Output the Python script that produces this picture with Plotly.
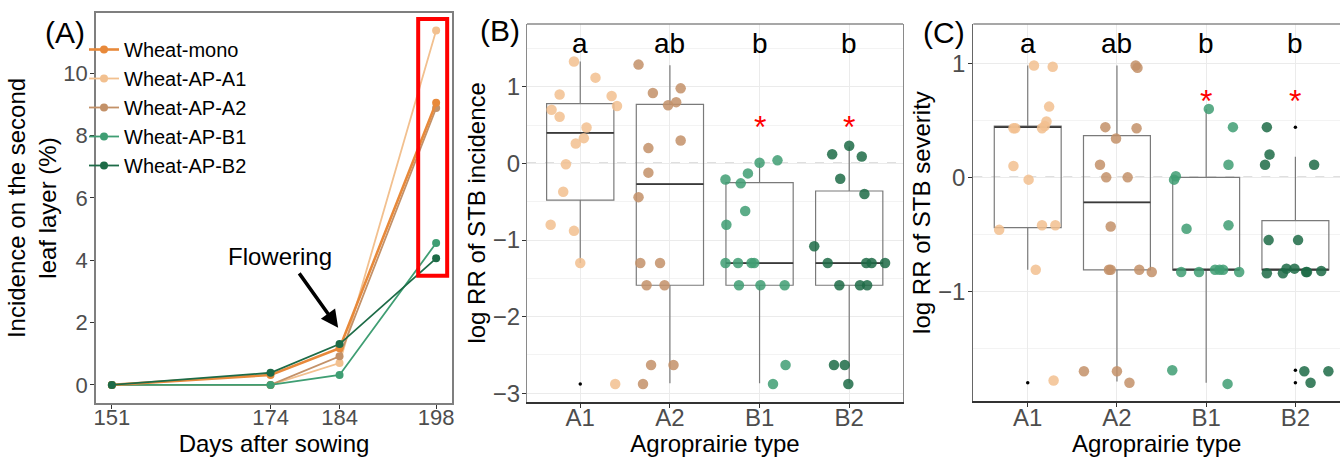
import plotly.graph_objects as go

# ---------------- data ----------------
days = [151, 174, 184, 198]
line_names = ["Wheat-mono", "Wheat-AP-A1", "Wheat-AP-A2", "Wheat-AP-B1", "Wheat-AP-B2"]
inc_mono = [0.0, 0.32, 1.18, 9.05]
inc_ap_a1 = [0.0, 0.0, 0.70, 11.37]
inc_ap_a2 = [0.0, 0.0, 0.92, 8.88]
inc_ap_b1 = [0.0, 0.0, 0.32, 4.55]
inc_ap_b2 = [0.0, 0.39, 1.31, 4.06]

groups = ["A1", "A2", "B1", "B2"]
letters = ["a", "ab", "b", "b"]
signif = ["", "", "*", "*"]

# Panel B: log RR of STB incidence (points + jitter offsets)
incB_A1 = [1.33, 1.12, 0.90, 0.88, 0.75, 0.70, 0.61, 0.47, 0.33, 0.26, -0.01, -0.37, -0.80, -0.88, -1.30, -2.88]
incB_A1_dx = [-0.07, 0.17, -0.23, 0.35, 0.41, -0.32, -0.23, 0.07, 0.04, -0.05, -0.16, -0.19, -0.33, -0.07, 0.0, 0.39]
incB_A2 = [1.29, 0.92, 0.98, 0.76, 0.80, 0.30, 0.20, -0.12, -0.44, -1.30, -1.30, -1.59, -1.59, -2.63, -2.63, -2.88]
incB_A2_dx = [-0.35, -0.19, 0.12, -0.02, 0.07, 0.12, -0.24, -0.24, -0.35, -0.33, -0.11, -0.26, -0.06, -0.21, 0.04, -0.30]
incB_B1 = [0.01, 0.04, -0.13, -0.21, -0.26, -0.62, -0.80, -1.30, -1.30, -1.30, -1.30, -1.59, -1.59, -1.59, -2.63, -2.88]
incB_B1_dx = [0.0, 0.20, -0.13, -0.38, -0.21, -0.16, -0.37, -0.38, -0.24, -0.09, -0.06, -0.23, 0.01, 0.28, 0.29, 0.15]
incB_B2 = [0.23, 0.12, 0.09, -0.20, -0.40, -1.08, -1.30, -1.30, -1.30, -1.30, -1.59, -1.59, -1.59, -2.63, -2.63, -2.88]
incB_B2_dx = [0.0, -0.19, 0.14, -0.10, 0.17, -0.39, -0.24, 0.19, 0.25, 0.40, -0.11, 0.12, 0.20, -0.17, -0.05, -0.01]
incB_q1 = [-0.48, -1.59, -1.59, -1.59]
incB_median = [0.40, -0.27, -1.30, -1.30]
incB_q3 = [0.78, 0.77, -0.25, -0.36]
incB_lower = [-1.30, -2.87, -2.87, -2.87]
incB_upper = [1.33, 1.28, 0.01, 0.22]
incB_out_group = [0]
incB_out_value = [-2.88]

# Panel C: log RR of STB severity
sevC_A1 = [0.98, 0.97, 0.62, 0.49, 0.45, 0.43, 0.43, 0.43, 0.10, -0.02, -0.46, -0.42, -0.42, -0.81, -1.78]
sevC_A1_dx = [0.07, 0.28, 0.24, 0.21, 0.19, 0.16, -0.14, -0.16, -0.16, 0.01, -0.32, 0.16, 0.31, 0.09, 0.29]
sevC_A2 = [0.98, 0.96, 0.44, 0.43, 0.34, 0.11, 0.00, 0.00, -0.43, -0.81, -0.81, -0.81, -0.83, -1.70, -1.70, -1.80]
sevC_A2_dx = [0.21, 0.23, -0.13, 0.22, -0.01, -0.19, -0.12, 0.12, -0.07, -0.09, -0.07, 0.25, 0.39, -0.37, 0.0, 0.14]
sevC_B1 = [0.60, 0.44, 0.11, 0.01, -0.02, -0.45, -0.42, -0.83, -0.83, -0.81, -0.81, -0.81, -0.83, -1.69, -1.81]
sevC_B1_dx = [0.03, 0.30, 0.25, -0.34, -0.36, -0.22, 0.25, -0.28, -0.08, 0.10, 0.15, 0.19, 0.37, -0.38, 0.24]
sevC_B2 = [0.44, 0.20, 0.11, 0.11, -0.55, -0.55, -0.84, -0.84, -0.80, -0.80, -0.83, -0.83, -0.82, -1.70, -1.70, -1.80]
sevC_B2_dx = [-0.32, -0.29, -0.34, 0.21, -0.30, 0.03, -0.32, -0.14, -0.10, -0.01, 0.12, 0.13, 0.29, 0.10, 0.37, 0.17]
sevC_q1 = [-0.44, -0.81, -0.81, -0.81]
sevC_median = [0.44, -0.22, -0.81, -0.81]
sevC_q3 = [0.45, 0.365, 0.0, -0.38]
sevC_lower = [-0.81, -1.79, -1.80, -0.81]
sevC_upper = [0.98, 0.98, 0.60, 0.18]
sevC_out_group = [0, 3, 3, 3]
sevC_out_value = [-1.80, 0.44, -1.69, -1.80]

# ---------------- styles ----------------
W, H = 1340, 457
FONT = "Liberation Sans, Arial, sans-serif"
TICK_GRAY = "#4D4D4D"
col_mono = "#E8893A"
col_a1 = "#F2C08F"
col_a2 = "#C39168"
col_b1 = "#3F9E73"
col_b2 = "#1D6B47"
group_cols = [col_a1, col_a2, col_b1, col_b2]


def dom_x(x0, x1):
    return [x0 / W, min(x1 / W, 1.0)]


def dom_y(top, bottom):
    return [(H - bottom) / H, (H - top) / H]


fig = go.Figure()

# ---------------- panel A ----------------
series = [
    ("Wheat-AP-A1", inc_ap_a1, col_a1, 1.8, 2),
    ("Wheat-AP-A2", inc_ap_a2, col_a2, 1.8, 3),
    ("Wheat-AP-B1", inc_ap_b1, col_b1, 1.8, 4),
    ("Wheat-mono", inc_mono, col_mono, 2.6, 1),
    ("Wheat-AP-B2", inc_ap_b2, col_b2, 1.8, 5),
]
for name, vals, col, lw, rank in series:
    fig.add_trace(go.Scatter(
        x=days, y=vals, mode="lines+markers", name=name,
        line=dict(color=col, width=lw), marker=dict(color=col, size=8),
        legendrank=rank, xaxis="x", yaxis="y"))


# ---------------- panels B and C ----------------
def add_box_panel(xa, ya, pts, dxs, q1, med, q3, lo, up, og, ov):
    fig.add_trace(go.Box(
        x=list(range(len(groups))), q1=q1, median=med, q3=q3,
        lowerfence=lo, upperfence=up, width=0.75, boxpoints=False,
        whiskerwidth=0, line=dict(color="#7A7A7A", width=1.2),
        fillcolor="rgba(255,255,255,0)", showlegend=False,
        hoverinfo="skip", xaxis=xa, yaxis=ya))
    mx, my = [], []
    for i, m in enumerate(med):
        mx += [i - 0.375, i + 0.375, None]
        my += [m, m, None]
    fig.add_trace(go.Scatter(x=mx, y=my, mode="lines",
                             line=dict(color="#3A3A3A", width=1.8),
                             showlegend=False, hoverinfo="skip",
                             xaxis=xa, yaxis=ya))
    fig.add_trace(go.Scatter(x=og, y=ov, mode="markers",
                             marker=dict(color="black", size=3.5),
                             showlegend=False, xaxis=xa, yaxis=ya))
    for i, (vals, dx) in enumerate(zip(pts, dxs)):
        fig.add_trace(go.Scatter(
            x=[i + d for d in dx], y=vals, mode="markers",
            marker=dict(color=group_cols[i], size=10.5, opacity=0.85),
            name=groups[i], showlegend=False, xaxis=xa, yaxis=ya))


add_box_panel("x2", "y2",
              [incB_A1, incB_A2, incB_B1, incB_B2],
              [incB_A1_dx, incB_A2_dx, incB_B1_dx, incB_B2_dx],
              incB_q1, incB_median, incB_q3, incB_lower, incB_upper,
              incB_out_group, incB_out_value)
add_box_panel("x3", "y3",
              [sevC_A1, sevC_A2, sevC_B1, sevC_B2],
              [sevC_A1_dx, sevC_A2_dx, sevC_B1_dx, sevC_B2_dx],
              sevC_q1, sevC_median, sevC_q3, sevC_lower, sevC_upper,
              sevC_out_group, sevC_out_value)

tickfont_a = dict(family=FONT, size=22, color=TICK_GRAY)
tickfont_b = dict(family=FONT, size=24, color=TICK_GRAY)
titlefont = dict(family=FONT, size=24, color="black")
grid = "#EBEBEB"

layout = dict(
    width=W, height=H, margin=dict(l=0, r=0, t=0, b=0, autoexpand=False),
    paper_bgcolor="white", plot_bgcolor="white",
    font=dict(family=FONT, color="black"),
    showlegend=True,
    legend=dict(x=84 / W, y=(H - 30) / H, xanchor="left", yanchor="top",
                bgcolor="rgba(0,0,0,0)", font=dict(family=FONT, size=20, color="black"),
                itemwidth=30, tracegroupgap=0),
    # panel A
    xaxis=dict(domain=dom_x(96, 452), range=[148.7, 200.3], tickvals=days,
               showgrid=False, zeroline=False, showline=True, linecolor="#7F7F7F",
               linewidth=1.5, mirror=True, ticks="outside", ticklen=4, tickcolor="#333",
               tickfont=tickfont_a, ticklabelstandoff=-10, automargin=True,
               title=dict(text="Days after sowing", font=titlefont, standoff=12)),
    yaxis=dict(domain=dom_y(13, 403), range=[-0.58, 11.93], tickvals=[0, 2, 4, 6, 8, 10],
               showgrid=False, zeroline=False, showline=True, linecolor="#7F7F7F",
               linewidth=1.5, mirror=True, ticks="outside", ticklen=4, tickcolor="#333",
               tickfont=tickfont_a, anchor="x", automargin=True, ticklabelstandoff=-2,
               title=dict(text="Incidence on the second<br>leaf layer (%)", font=titlefont, standoff=0)),
    # panel B
    xaxis2=dict(domain=dom_x(527, 903), range=[-0.594, 3.6], tickvals=[0, 1, 2, 3],
                ticktext=groups, showgrid=True, gridcolor=grid, gridwidth=1, zeroline=False,
                showline=True, linecolor="#333", linewidth=1.6, ticks="outside", ticklen=4,
                tickcolor="#333", tickfont=tickfont_b, anchor="y2",
                ticklabelstandoff=-10, automargin=True,
                title=dict(text="Agroprairie type", font=titlefont, standoff=12)),
    yaxis2=dict(domain=dom_y(24, 401.7), range=[-3.11, 1.82], tickvals=[-3, -2, -1, 0, 1],
                showgrid=True, gridcolor=grid, gridwidth=1, zeroline=False,
                minor=dict(dtick=0.5, tick0=0, showgrid=True, gridcolor="#F3F3F3", gridwidth=0.8),
                showline=True, linecolor="#8A8A8A", linewidth=1.3, mirror=True,
                ticks="outside", ticklen=4, tickcolor="#333", tickfont=tickfont_b, anchor="x2",
                automargin=True, ticklabelstandoff=-3,
                title=dict(text="log RR of STB incidence", font=titlefont, standoff=0)),
    # panel C
    xaxis3=dict(domain=dom_x(973.3, 1340), range=[-0.61, 3.5], tickvals=[0, 1, 2, 3],
                ticktext=groups, showgrid=True, gridcolor=grid, gridwidth=1, zeroline=False,
                showline=True, linecolor="#333", linewidth=1.6, ticks="outside", ticklen=4,
                tickcolor="#333", tickfont=tickfont_b, anchor="y3",
                ticklabelstandoff=-10, automargin=True,
                title=dict(text="Agroprairie type", font=titlefont, standoff=12)),
    yaxis3=dict(domain=dom_y(24, 401), range=[-1.96, 1.344], tickvals=[-1, 0, 1],
                showgrid=True, gridcolor=grid, gridwidth=1, zeroline=False,
                minor=dict(dtick=0.5, tick0=0, showgrid=True, gridcolor="#F3F3F3", gridwidth=0.8),
                showline=True, linecolor="#666", linewidth=1.4, mirror=False,
                ticks="outside", ticklen=4, tickcolor="#333", tickfont=tickfont_b, anchor="x3",
                automargin=True, ticklabelstandoff=-2,
                title=dict(text="log RR of STB severity", font=titlefont, standoff=0)),
)
fig.update_layout(**layout)

shapes = [
    # highlight box in panel A
    dict(type="rect", xref="x", yref="y", x0=195.4, x1=199.6, y0=3.5, y1=11.74,
         line=dict(color="#FF0000", width=4), fillcolor="rgba(0,0,0,0)"),
    # zero reference lines
    dict(type="line", xref="x2 domain", yref="y2", x0=0, x1=1, y0=0, y1=0,
         line=dict(color="#7F7F7F", width=1.3, dash="dash"), layer="below"),
    dict(type="line", xref="x3 domain", yref="y3", x0=0, x1=1, y0=0, y1=0,
         line=dict(color="#7F7F7F", width=1.3, dash="dash"), layer="below"),
    # top borders of B and C
    dict(type="line", xref="x2 domain", yref="y2 domain", x0=0, x1=1, y0=1, y1=1,
         line=dict(color="#8A8A8A", width=1.3)),
    dict(type="line", xref="x3 domain", yref="y3 domain", x0=0, x1=1, y0=1, y1=1,
         line=dict(color="#8A8A8A", width=1.3)),
]
fig.update_layout(shapes=shapes)

panel_font = dict(family=FONT, size=30, color="black")
ann = [
    dict(text="(A)", x=65 / W, y=(H - 32) / H, xref="paper", yref="paper",
         xanchor="center", yanchor="middle", showarrow=False, font=panel_font),
    dict(text="(B)", x=500 / W, y=(H - 30) / H, xref="paper", yref="paper",
         xanchor="center", yanchor="middle", showarrow=False, font=panel_font),
    dict(text="(C)", x=944 / W, y=(H - 32) / H, xref="paper", yref="paper",
         xanchor="center", yanchor="middle", showarrow=False, font=panel_font),
    dict(text="Flowering", x=175.4, y=4.11, xref="x", yref="y", showarrow=False,
         xanchor="center", yanchor="middle",
         font=dict(family=FONT, size=24, color="black")),
    dict(text="", x=183.8, y=1.83, xref="x", yref="y", showarrow=True, ax=-40, ay=-56,
         arrowhead=2, arrowsize=1, arrowwidth=3.5, arrowcolor="black"),
]
for i, g in enumerate(groups):
    ann.append(dict(text=letters[i], x=i, y=1.57, xref="x2", yref="y2", showarrow=False,
                    xanchor="center", yanchor="middle",
                    font=dict(family=FONT, size=28, color="black")))
    ann.append(dict(text=letters[i], x=i, y=1.17, xref="x3", yref="y3", showarrow=False,
                    xanchor="center", yanchor="middle",
                    font=dict(family=FONT, size=28, color="black")))
    if signif[i]:
        ann.append(dict(text=signif[i], x=i, y=0.58, xref="x2", yref="y2", showarrow=False,
                        xanchor="center", yanchor="middle", yshift=-8,
                        font=dict(family=FONT, size=32, color="#FF0000")))
        ann.append(dict(text=signif[i], x=i, y=0.74, xref="x3", yref="y3", showarrow=False,
                        xanchor="center", yanchor="middle", yshift=-8,
                        font=dict(family=FONT, size=32, color="#FF0000")))
fig.update_layout(annotations=ann)

fig.write_html("out.html", config={"displayModeBar": False},
               post_script="document.body.style.margin='0px';document.body.style.overflow='hidden';")
